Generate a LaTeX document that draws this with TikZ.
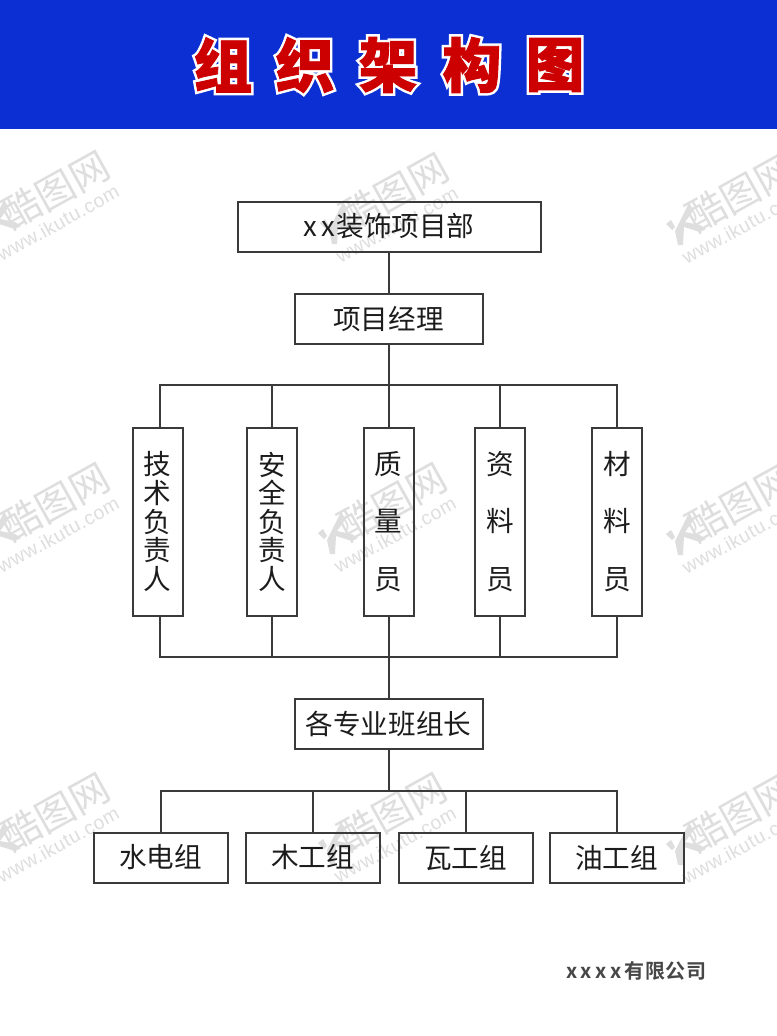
\documentclass[tikz,border=0pt]{standalone}
\usepackage{fontspec}
\setmainfont{Noto Sans CJK SC}
\newfontfamily\wmfont{Noto Sans CJK SC}
\newfontfamily\wmlat[LetterSpace=3]{Liberation Sans}
\newfontfamily\compfont{Noto Sans CJK SC Bold}
\newfontfamily\titlewhite[FakeBold=10]{Noto Sans CJK SC Black}
\newfontfamily\titlered[FakeBold=1.5]{Noto Sans CJK SC Black}
\definecolor{banner}{HTML}{0B2FD2}
\definecolor{titlered}{HTML}{CC0000}
\definecolor{wm}{HTML}{DEDEDE}
\definecolor{linecol}{HTML}{3A3A3A}
\definecolor{txtcol}{HTML}{1C1C1C}
\tikzset{
 orgbox/.style={draw=linecol,line width=1.5pt,outer sep=0pt,inner sep=0pt,font=\fontsize{20.7pt}{21.4pt}\selectfont,text=txtcol,align=center},
 wide/.style={orgbox,minimum width=141pt,minimum height=37.5pt},
 wider/.style={orgbox,minimum width=227.25pt,minimum height=37.5pt},
 leaf/.style={orgbox,minimum width=100.5pt,minimum height=37.5pt},
 tall/.style={orgbox,minimum width=37.5pt,minimum height=141pt},
 conn/.style={draw=linecol,line width=1.5pt},
 wmark/.style={text=wm,inner sep=0pt,rotate=29},
 tw/.style={inner sep=0pt,text=white,font=\titlewhite\fontsize{44pt}{44pt}\selectfont},
 tr/.style={inner sep=0pt,text=titlered,font=\titlered\fontsize{44pt}{44pt}\selectfont}
}
% #1,#2: centre of the middle character, #3: name prefix
\newcommand{\watermark}[3]{%
 \begin{scope}[shift={(#1,#2)}]
  \node[wmark,font=\wmfont\fontsize{29pt}{29pt}\selectfont] (#3t) at (0,0) {酷图网};
  \node[wmark,font=\wmlat\fontsize{14.5pt}{15pt}\selectfont] (#3u) at (3,33) {www.ikutu.com};
  \fill[wm] (-52,12) -- (-47,18) -- (-55,29) -- (-40,32) -- (-34,36) -- (-40,39) -- (-56,34) -- (-57,52) -- (-62,52) -- (-65,38) -- cycle;
  \fill[wm] (-74,31) -- (-69,27) -- (-65,34) -- (-68,37) -- cycle;
 \end{scope}}
\begin{document}
\begin{tikzpicture}[x=0.75pt,y=-0.75pt]
\useasboundingbox (0,0) rectangle (777,1036);
\fill[white] (0,0) rectangle (777,1036);
\fill[banner] (0,0) rectangle (777,129);
\watermark{55}{190}{wa}
\watermark{394}{192}{wb}
\watermark{740}{193}{wc}
\watermark{55}{502}{wd}
\watermark{392}{502}{we}
\watermark{740}{503}{wf}
\watermark{55}{812}{wg}
\watermark{392}{812}{wh}
\watermark{740}{813}{wi}
% title: white outline layer, then red face
\node[tw] (w1) at (223,65) {组};
\node[tw] (w2) at (305,65) {织};
\node[tw] (w3) at (388,65) {架};
\node[tw] (w4) at (472,65) {构};
\node[tw] (w5) at (555,65) {图};
\node[tr] (t1) at (223,65) {组};
\node[tr] (t2) at (305,65) {织};
\node[tr] (t3) at (388,65) {架};
\node[tr] (t4) at (472,65) {构};
\node[tr] (t5) at (555,65) {图};
% junctions and drop points
\coordinate (busa) at (388.5,384.5);
\coordinate (busb) at (388.5,656.5);
\coordinate (busc) at (388.5,790.5);
\coordinate (ra1) at (159.5,427.5); \coordinate (rb1) at (159.5,615.5);
\coordinate (ra2) at (271.5,427.5); \coordinate (rb2) at (271.5,615.5);
\coordinate (ra4) at (499.5,427.5); \coordinate (rb4) at (499.5,615.5);
\coordinate (ra5) at (616.5,427.5); \coordinate (rb5) at (616.5,615.5);
\coordinate (ga1) at (160.5,832.5);
\coordinate (ga2) at (312.5,832.5);
\coordinate (ga3) at (465.5,832.5);
\coordinate (ga4) at (616.5,832.5);
% boxes
\node[wider] (dept) at (389,226.5) {x\hspace{3pt}x\hspace{1pt}装饰项目部};
\node[wide] (pm) at (388.5,318.5) {项目经理};
\node[tall] (r1) at (157.5,521.5) {技\\术\\负\\责\\人};
\node[tall] (r2) at (272,521.5) {安\\全\\负\\责\\人};
\node[tall] (r3) at (388.5,521.5) {质\\[22pt]量\\[22pt]员};
\node[tall] (r4) at (500,521.5) {资\\[22pt]料\\[22pt]员};
\node[tall] (r5) at (617,521.5) {材\\[22pt]料\\[22pt]员};
\node[wide] (lead) at (388.5,723.5) {各专业班组长};
\node[leaf] (g1) at (160.5,857.5) {水电组};
\node[leaf] (g2) at (312.5,857.5) {木工组};
\node[leaf] (g3) at (465.5,857.5) {瓦工组};
\node[leaf] (g4) at (616.5,857.5) {油工组};
\node[inner sep=0pt,text=black!72,font=\compfont\fontsize{15pt}{16pt}\selectfont] (co) at (636.5,971) {x\hspace{2.6pt}x\hspace{2.6pt}x\hspace{2.6pt}x\hspace{2pt}有\hspace{0.6pt}限\hspace{0.6pt}公\hspace{0.6pt}司};
% connectors
\draw[conn] (dept.south -| busa) -- (pm.north -| busa);
\draw[conn] (pm.south -| busa) -- (r3.north);
\draw[conn] (ra1) |- (busa) -| (ra5);
\draw[conn] (ra2) -- (ra2 |- busa);
\draw[conn] (ra4) -- (ra4 |- busa);
\draw[conn] (rb1) |- (busb) -| (rb5);
\draw[conn] (rb2) -- (rb2 |- busb);
\draw[conn] (rb4) -- (rb4 |- busb);
\draw[conn] (r3.south) -- (lead.north -| busb);
\draw[conn] (lead.south -| busc) -- (busc);
\draw[conn] (ga1) |- (busc) -| (ga4);
\draw[conn] (ga2) -- (ga2 |- busc);
\draw[conn] (ga3) -- (ga3 |- busc);
\end{tikzpicture}
\end{document}
